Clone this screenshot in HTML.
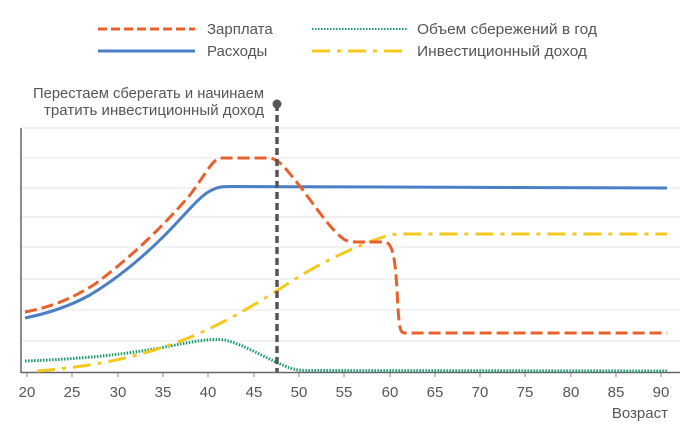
<!DOCTYPE html>
<html><head><meta charset="utf-8"><style>
html,body{margin:0;padding:0;background:#fff;width:685px;height:430px;overflow:hidden}
svg text{font-family:"Liberation Sans",sans-serif;fill:#555}
</style></head><body>
<svg width="685" height="430" viewBox="0 0 685 430" xmlns="http://www.w3.org/2000/svg">
<g stroke="#e6e6e6" stroke-width="1">
<line x1="21" x2="680" y1="128" y2="128"/><line x1="21" x2="680" y1="158" y2="158"/>
<line x1="21" x2="680" y1="188" y2="188"/><line x1="21" x2="680" y1="217" y2="217"/>
<line x1="21" x2="680" y1="247" y2="247"/><line x1="21" x2="680" y1="279" y2="279"/>
<line x1="21" x2="680" y1="310" y2="310"/><line x1="21" x2="680" y1="341" y2="341"/>
</g>
<line x1="21" y1="128" x2="21" y2="373" stroke="#666" stroke-width="1.5"/>
<line x1="21" y1="372.5" x2="680" y1="372.5" y2="372.5" stroke="#666" stroke-width="1.5"/>
<g stroke="#888" stroke-width="1">
<line x1="27" x2="27" y1="373" y2="377"/><line x1="72" x2="72" y1="373" y2="377"/><line x1="118" x2="118" y1="373" y2="377"/><line x1="163" x2="163" y1="373" y2="377"/><line x1="208" x2="208" y1="373" y2="377"/><line x1="254" x2="254" y1="373" y2="377"/><line x1="299" x2="299" y1="373" y2="377"/><line x1="344" x2="344" y1="373" y2="377"/><line x1="390" x2="390" y1="373" y2="377"/><line x1="435" x2="435" y1="373" y2="377"/><line x1="480" x2="480" y1="373" y2="377"/><line x1="525" x2="525" y1="373" y2="377"/><line x1="571" x2="571" y1="373" y2="377"/><line x1="616" x2="616" y1="373" y2="377"/><line x1="661" x2="661" y1="373" y2="377"/>
</g>
<g font-size="15" text-anchor="middle">
<text x="27" y="397">20</text><text x="72" y="397">25</text><text x="118" y="397">30</text><text x="163" y="397">35</text><text x="208" y="397">40</text><text x="254" y="397">45</text><text x="299" y="397">50</text><text x="344" y="397">55</text><text x="390" y="397">60</text><text x="435" y="397">65</text><text x="480" y="397">70</text><text x="525" y="397">75</text><text x="571" y="397">80</text><text x="616" y="397">85</text><text x="661" y="397">90</text>
</g>
<text x="668" y="418" font-size="15" text-anchor="end">Возраст</text>
<path d="M25,361 C80,359 120,355 160,348 C190,342 210,338 225,340 C245,345 265,358 285,366 C292,369 296,370 305,370.5 L667,371" fill="none" stroke="#1a9a6a" stroke-width="3" stroke-dasharray="1.5,1.5"/>
<path d="M37,371 C100,366 150,355 200,333 C240,315 270,295 300,276 C330,258 360,245 380,238 C390,235 395,234 400,234 L667,234" fill="none" stroke="#f4c81c" stroke-width="3" stroke-dasharray="18,7,4,7"/>
<path d="M25,318 C50,313 70,306 90,295 C115,280 140,260 165,235 C185,215 200,195 212,190 C220,186 225,186.5 235,186.5 L667,188" fill="none" stroke="#4a7fc4" stroke-width="3"/>
<path d="M25,312 C50,307 70,300 95,284 C125,262 160,230 190,195 C205,175 212,160 220,158 L270,158 C280,160 285,168 295,180 C315,205 330,230 345,240 C350,242 355,242 360,242 L385,242 C392,243 395,255 397,290 C399,330 400,333 405,333 L667,333" fill="none" stroke="#e8612c" stroke-width="3" stroke-dasharray="12,5"/>
<line x1="277" y1="104" x2="277" y2="372" stroke="#555" stroke-width="3.5" stroke-dasharray="7,4"/>
<circle cx="277" cy="104" r="4.5" fill="#555"/>
<g font-size="15" text-anchor="end">
<text x="264" y="98" textLength="231" lengthAdjust="spacingAndGlyphs">Перестаем сберегать и начинаем</text>
<text x="264" y="115" textLength="220" lengthAdjust="spacingAndGlyphs">тратить инвестиционный доход</text>
</g>
<line x1="98" x2="195" y1="29" y2="29" stroke="#e8612c" stroke-width="3" stroke-dasharray="9,4"/>
<text x="207" y="34" font-size="15">Зарплата</text>
<line x1="98" x2="195" y1="51" y2="51" stroke="#4a7fc4" stroke-width="3"/>
<text x="207" y="56" font-size="15">Расходы</text>
<line x1="312" x2="407" y1="29" y2="29" stroke="#1a9a6a" stroke-width="2" stroke-dasharray="1.5,1.5"/>
<text x="417" y="34" font-size="15" textLength="180" lengthAdjust="spacingAndGlyphs">Объем сбережений в год</text>
<line x1="312" x2="407" y1="51" y2="51" stroke="#f4c81c" stroke-width="3" stroke-dasharray="18,7,4,7"/>
<text x="417" y="56" font-size="15" textLength="170" lengthAdjust="spacingAndGlyphs">Инвестиционный доход</text>
</svg>
</body></html>
